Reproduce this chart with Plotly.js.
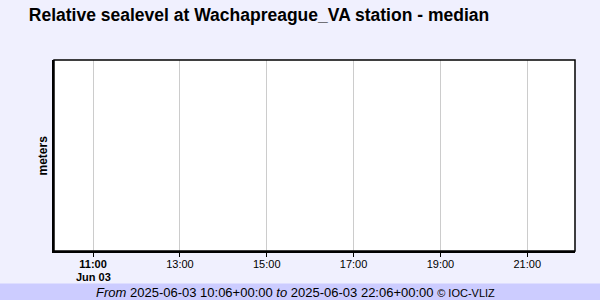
<!DOCTYPE html>
<html>
<head>
<meta charset="utf-8">
<script src="https://cdn.plot.ly/plotly-3.0.1.min.js"></script>
<style>html,body{margin:0;padding:0;background:#f0f0fe;}#chart{width:600px;height:300px;}</style>
</head>
<body>
<div id="chart"></div>
<script>
// Data (the station reported no values in this window)
const sealevelTimes = [];
const sealevelValues = [];
const xRange = ['2025-06-03 10:06', '2025-06-03 22:06'];
const tickVals = ['2025-06-03 11:00', '2025-06-03 13:00', '2025-06-03 15:00', '2025-06-03 17:00', '2025-06-03 19:00', '2025-06-03 21:00'];
const tickLabels = ['<b>11:00</b>', '13:00', '15:00', '17:00', '19:00', '21:00'];
const dateLabel = '<b>Jun 03</b>';
const titleText = '<b>Relative sealevel at Wachapreague_VA station - median</b>';
const yTitle = '<b>meters</b>';
const footerText = '<i>From</i> 2025-06-03 10:06+00:00 <i>to</i> 2025-06-03 22:06+00:00 <span style="font-size:11px">© IOC-VLIZ</span>';

const W = 600, H = 300;
const m = {l: 54, r: 25, t: 60, b: 49};
const pw = W - m.l - m.r, ph = H - m.t - m.b;
const px = v => (v - m.l) / pw;          // container px -> paper x
const py = v => (H - m.b - v) / ph;      // container px (from top) -> paper y

const font = 'Liberation Sans, Arial, sans-serif';

const data = [{
  type: 'scatter', mode: 'lines',
  x: sealevelTimes, y: sealevelValues,
  line: {color: '#0000cc', width: 1},
  showlegend: false, hoverinfo: 'skip'
}];

const layout = {
  width: W, height: H,
  margin: m,
  paper_bgcolor: '#f0f0fe',
  plot_bgcolor: '#ffffff',
  font: {family: font, color: '#000000', size: 11},
  showlegend: false,
  title: {
    text: titleText,
    font: {family: font, size: 17.5, color: '#000'},
    x: 259 / W, xref: 'container', xanchor: 'center',
    y: 1 - 15 / H, yref: 'container', yanchor: 'middle'
  },
  xaxis: {
    type: 'date', range: xRange,
    tickmode: 'array', tickvals: tickVals, ticktext: tickLabels,
    showgrid: true, gridcolor: '#cccccc', gridwidth: 1,
    ticks: 'outside', ticklen: 4, tickwidth: 1, tickcolor: '#000',
    ticklabelstandoff: -2,
    showline: true, linecolor: '#000', linewidth: 2,
    zeroline: false, fixedrange: true,
    tickfont: {family: font, size: 11, color: '#000'}
  },
  yaxis: {
    range: [0, 1], showticklabels: false, ticks: '',
    showgrid: false, zeroline: false,
    showline: true, linecolor: '#000', linewidth: 2,
    fixedrange: true
  },
  shapes: [
    {type: 'rect', xref: 'paper', yref: 'paper', x0: 0, x1: 1, y0: 0, y1: 1,
     line: {color: '#000', width: 1.5}, fillcolor: 'rgba(0,0,0,0)', layer: 'above'},
    {type: 'rect', xref: 'paper', yref: 'paper', x0: px(0), x1: px(W), y0: py(283.5), y1: py(H),
     line: {width: 0}, fillcolor: '#ccccff', layer: 'below'}
  ],
  annotations: [
    {text: dateLabel, xref: 'x', yref: 'paper', x: tickVals[0], y: py(277),
     xanchor: 'center', yanchor: 'middle', showarrow: false,
     font: {family: font, size: 11, color: '#000'}},
    {text: yTitle, xref: 'paper', yref: 'paper', x: px(42), y: py(155.5),
     xanchor: 'center', yanchor: 'middle', textangle: -90, showarrow: false,
     font: {family: font, size: 12, color: '#000'}},
    {text: footerText, xref: 'paper', yref: 'paper', x: px(295), y: py(292),
     xanchor: 'center', yanchor: 'middle', showarrow: false,
     font: {family: font, size: 13, color: '#000'}}
  ]
};

Plotly.newPlot('chart', data, layout, {staticPlot: true, displayModeBar: false});
</script>
</body>
</html>
